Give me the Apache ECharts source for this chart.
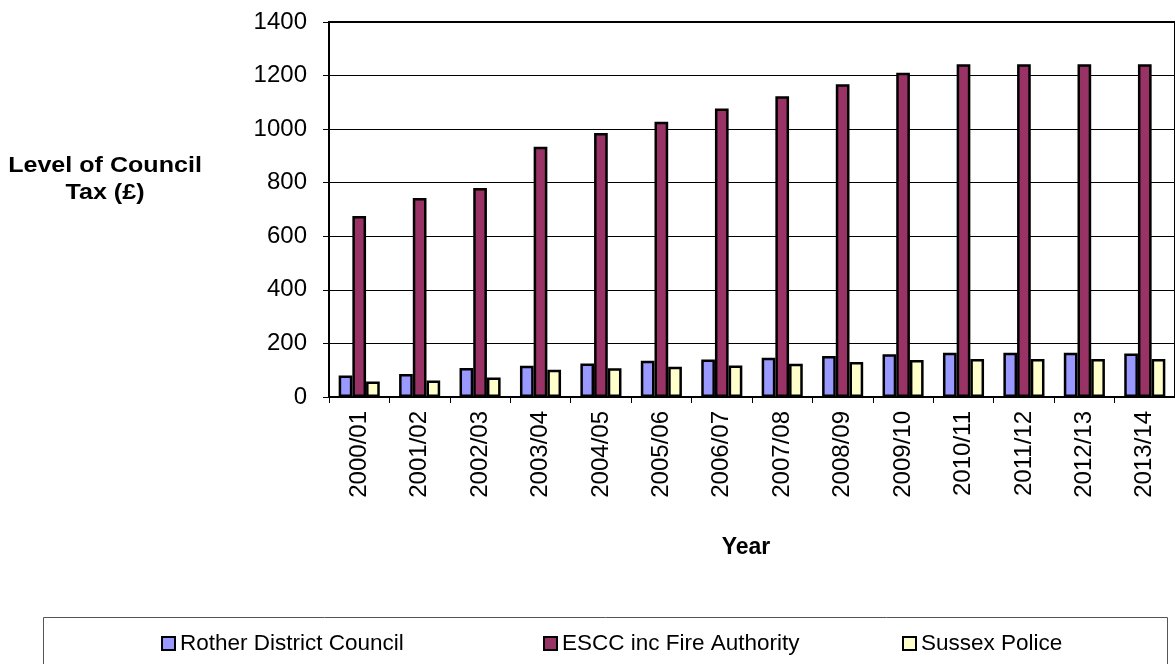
<!DOCTYPE html>
<html><head><meta charset="utf-8">
<script src="https://cdn.jsdelivr.net/npm/echarts@6/dist/echarts.min.js"></script>
<style>html,body{margin:0;padding:0;background:#fff}#c{width:1175px;height:664px}</style>
</head><body><div id="c"></div>
<script>
const categories = ['2000/01','2001/02','2002/03','2003/04','2004/05','2005/06','2006/07','2007/08','2008/09','2009/10','2010/11','2011/12','2012/13','2013/14'];
const rother = [80, 86, 108, 117, 125, 135, 140, 147, 153, 160, 165, 165, 165, 162];
const escc = [676, 743, 780, 934, 986, 1028, 1077, 1123, 1168, 1211, 1242, 1242, 1242, 1242];
const police = [58, 62, 73, 102, 107, 113, 118, 124, 131, 138, 142, 142, 142, 142];
const yTicks = { min: 0, max: 1400, interval: 200 };
const seriesNames = ['Rother District Council', 'ESCC inc Fire Authority', 'Sussex Police'];

const FONT = 'Arial, "Liberation Sans", sans-serif';
const colors = ['#9999FF', '#993366', '#FFFFCC'];
const chart = echarts.init(document.getElementById('c'), null, { renderer: 'canvas' });

function mkSeries(name, data, color) {
  return {
    name, type: 'bar', data,
    barGap: '0%', barCategoryGap: '32%',
    itemStyle: { color, borderColor: '#000', borderWidth: 2.5 },
    emphasis: { disabled: true }
  };
}
const legendLefts = [161, 543, 902];
chart.setOption({
  animation: false,
  textStyle: { fontFamily: FONT, color: '#000' },
  grid: { left: 329, top: 22, width: 851, height: 375, show: true, borderColor: '#000', borderWidth: 2, backgroundColor: 'transparent' },
  xAxis: {
    type: 'category', data: categories,
    axisLine: { lineStyle: { color: '#000', width: 2 } },
    axisTick: { show: true, length: 6, lineStyle: { color: '#000' } },
    axisLabel: { rotate: 90, fontSize: 24, color: '#000', margin: 14, fontFamily: FONT }
  },
  yAxis: {
    type: 'value', min: yTicks.min, max: yTicks.max, interval: yTicks.interval,
    axisLine: { show: true, lineStyle: { color: '#000', width: 2 } },
    axisTick: { show: true, length: 6, lineStyle: { color: '#000' } },
    axisLabel: { fontSize: 24, color: '#000', margin: 22, fontFamily: FONT, formatter: v => String(v) },
    splitLine: { lineStyle: { color: '#000', width: 1 } }
  },
  legend: seriesNames.map((n, i) => ({
    data: [n], left: legendLefts[i], top: 632, padding: 0,
    itemWidth: 13, itemHeight: 13, itemGap: 0,
    icon: 'rect',
    itemStyle: { borderColor: '#000', borderWidth: 2 },
    textStyle: { fontSize: 22.5, color: '#000', fontFamily: FONT },
    selectedMode: false
  })),
  graphic: [
    { type: 'rect', shape: { x: 43.5, y: 617.5, width: 1124, height: 100 }, style: { fill: 'none', stroke: '#555', lineWidth: 1 }, z: -1 },
    { type: 'text', x: 105, y: 179, scaleX: 1.14, style: { text: 'Level of Council\nTax (£)', x: 0, y: 0, align: 'center', verticalAlign: 'middle', font: 'bold 22px ' + FONT, fill: '#000', lineHeight: 27 } },
    { type: 'text', style: { text: 'Year', x: 746, y: 548, align: 'center', verticalAlign: 'middle', font: 'bold 23px ' + FONT, fill: '#000' } }
  ],
  series: [
    mkSeries(seriesNames[0], rother, colors[0]),
    mkSeries(seriesNames[1], escc, colors[1]),
    mkSeries(seriesNames[2], police, colors[2])
  ]
});
</script></body></html>
